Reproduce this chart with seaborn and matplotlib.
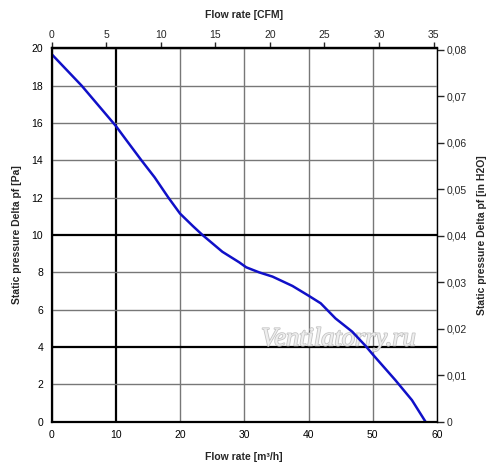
import numpy as np
import pandas as pd
import matplotlib
matplotlib.use("Agg")
import matplotlib.pyplot as plt
import matplotlib.patheffects as pe
import seaborn as sns

# fan curve
flow_m3h = [0, 4.7, 10, 11.7, 14, 16.05, 18.2, 20, 22, 23.5, 26.6, 29.2, 30.3, 32.3,
            34.4, 37.5, 40, 41.9, 44.2, 46.8, 48.9, 50, 53.5, 56.1, 58.2]
pressure_pa = [19.7, 18.0, 15.85, 15.06, 14.0, 13.09, 12.0, 11.15, 10.48, 10.0, 9.1,
               8.54, 8.27, 8.0, 7.77, 7.27, 6.75, 6.34, 5.53, 4.82, 4.05, 3.6, 2.23,
               1.15, 0]

x_ticks = [0, 10, 20, 30, 40, 50, 60]
y_ticks = [0, 2, 4, 6, 8, 10, 12, 14, 16, 18, 20]
cfm_ticks = [0, 5, 10, 15, 20, 25, 30, 35]
inh2o_ticks = [0, 0.01, 0.02, 0.03, 0.04, 0.05, 0.06, 0.07, 0.08]
inh2o_labels = ["0", "0,01", "0,02", "0,03", "0,04", "0,05", "0,06", "0,07", "0,08"]
bold_x = [10]
bold_y = [4, 10]

M3H_PER_CFM = 1.699
INH2O_PER_PA = 0.004015

df = pd.DataFrame({"flow": flow_m3h, "pressure": pressure_pa})

sns.set_theme(style="white")
plt.rcParams["font.family"] = ["Liberation Sans", "DejaVu Sans"]

fig = plt.figure(figsize=(5, 4.7), dpi=100)
ax = fig.add_axes([0.103, 0.103, 0.771, 0.794])

sns.lineplot(data=df, x="flow", y="pressure", color="#1010c8", linewidth=1.8, ax=ax)

ax.set_xlim(0, 60)
ax.set_ylim(0, 20)
ax.set_xticks(x_ticks)
ax.set_yticks(y_ticks)
ax.grid(True, color="#777777", linewidth=1.0)
for tick, line in zip(x_ticks, ax.get_xgridlines()):
    if tick in bold_x:
        line.set_color("black")
        line.set_linewidth(1.6)
for tick, line in zip(y_ticks, ax.get_ygridlines()):
    if tick in bold_y:
        line.set_color("black")
        line.set_linewidth(1.6)

ax.tick_params(axis="both", direction="out", length=4, width=1.0, colors="black",
               labelsize=7.5, pad=2)
for side in ["left", "bottom", "top"]:
    ax.spines[side].set_color("black")
    ax.spines[side].set_linewidth(1.6)
ax.spines["right"].set_visible(False)

ax.set_xlabel("Flow rate [m³/h]", fontsize=7.5, fontweight="bold", labelpad=9)
ax.set_ylabel("Static pressure Delta pf [Pa]", fontsize=7.5, fontweight="bold", labelpad=7)

top = ax.secondary_xaxis("top", functions=(lambda v: v / M3H_PER_CFM,
                                           lambda v: v * M3H_PER_CFM))
top.set_xticks(cfm_ticks)
top.tick_params(direction="out", length=4, width=1.0, labelsize=7.5, pad=2)
top.spines["top"].set_linewidth(1.6)
top.set_xlabel("Flow rate [CFM]", fontsize=7.5, fontweight="bold", labelpad=9)

right = ax.secondary_yaxis("right", functions=(lambda v: v * INH2O_PER_PA,
                                               lambda v: v / INH2O_PER_PA))
right.set_yticks(inh2o_ticks)
right.set_yticklabels(inh2o_labels)
right.tick_params(direction="out", length=5, width=1.0, labelsize=7.5, pad=2)
right.spines["right"].set_color("black")
right.spines["right"].set_linewidth(1.0)
right.set_ylabel("Static pressure Delta pf [in H2O]", fontsize=7.5, fontweight="bold",
                 labelpad=7)

# watermark
ax.text(0.745, 0.22, "Ventilatorry.ru", transform=ax.transAxes, ha="center", va="center",
        fontsize=19, style="italic", family="Liberation Serif", color="#eeeeee", zorder=1,
        path_effects=[pe.withStroke(linewidth=1.2, foreground="#c4c4c4")])

fig.savefig("out.png", dpi=100)
